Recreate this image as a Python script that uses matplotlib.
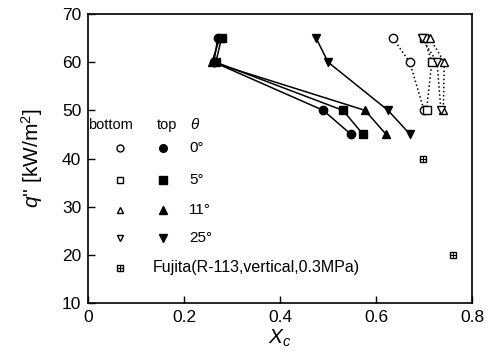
import matplotlib
matplotlib.use('Agg')
import matplotlib.pyplot as plt
import numpy as np

plt.rcParams['font.family'] = ['Liberation Sans', 'DejaVu Sans']
plt.rcParams['mathtext.fontset'] = 'custom'
plt.rcParams['mathtext.it'] = 'Liberation Sans:italic'
plt.rcParams['mathtext.rm'] = 'Liberation Sans'

# heat flux levels [kW/m2]
q_top = [65, 60, 50, 45]
q_bot = [65, 60, 50]

# top (filled), x_c per angle
top_0 = [0.270, 0.262, 0.490, 0.548]
top_5 = [0.278, 0.266, 0.531, 0.573]
top_11 = [0.274, 0.258, 0.577, 0.621]
top_25 = [0.475, 0.500, 0.625, 0.671]

# bottom (open), x_c per angle
bot_0 = [0.635, 0.670, 0.700]
bot_5 = [0.700, 0.716, 0.705]
bot_11 = [0.712, 0.742, 0.740]
bot_25 = [0.695, 0.727, 0.735]

# Fujita data
fuj_x = [0.698, 0.760]
fuj_q = [40, 20]

angles = ['0°', '5°', '11°', '25°']
mk = ['o', 's', '^', 'v']

fig = plt.figure(figsize=(4.98, 3.6), dpi=100)
ax = fig.add_axes([0.177, 0.158, 0.771, 0.803])

for xs, m in zip([top_0, top_5, top_11, top_25], mk):
    ax.plot(xs, q_top, '-', color='k', lw=1.1, marker=m, ms=6,
            mfc='k', mec='k')
for xs, m in zip([bot_0, bot_5, bot_11, bot_25], mk):
    ax.plot(xs, q_bot, ':', color='k', lw=1.1, marker=m, ms=6,
            mfc='white', mec='k', mew=1.0)
ax.plot(fuj_x, fuj_q, ls='none', marker='s', ms=5, mfc='white', mec='k')
ax.plot(fuj_x, fuj_q, ls='none', marker='+', ms=4, mec='k', mew=0.8)

# hand-made legend table
ax.text(0.0, 47.0, 'bottom', fontsize=10.5, va='center', ha='left')
ax.text(0.142, 47.0, 'top', fontsize=10.5, va='center', ha='left')
ax.text(0.212, 47.0, r'$\theta$', fontsize=11, va='center', ha='left')
rows_y = [42.2, 35.6, 29.3, 23.5]
for y, m, a in zip(rows_y, mk, angles):
    ax.plot([0.067], [y], marker=m, ms=5, mfc='white', mec='k', ls='none')
    ax.plot([0.156], [y], marker=m, ms=5.5, mfc='k', mec='k', ls='none')
    ax.text(0.210, y, a, fontsize=11, va='center', ha='left')
ax.plot([0.067], [17.3], marker='s', ms=5, mfc='white', mec='k', ls='none')
ax.plot([0.067], [17.3], marker='+', ms=4, mec='k', mew=0.8, ls='none')
ax.text(0.135, 17.3, 'Fujita(R-113,vertical,0.3MPa)', fontsize=11.5,
        va='center', ha='left')

ax.set_xlim(0, 0.8)
ax.set_ylim(10, 70)
ax.set_xticks([0, 0.2, 0.4, 0.6, 0.8])
ax.set_xticklabels(['0', '0.2', '0.4', '0.6', '0.8'])
ax.set_yticks(np.arange(10, 71, 10))
ax.tick_params(direction='in', labelsize=12.5, length=5, width=1, pad=5)
for s in ax.spines.values():
    s.set_linewidth(1.2)
ax.set_xlabel(r'$X_c$', fontsize=15, labelpad=2)
ax.set_ylabel(r"$q$'' [kW/m$^2$]", fontsize=15, labelpad=12)

fig.savefig('out.png', dpi=100)
